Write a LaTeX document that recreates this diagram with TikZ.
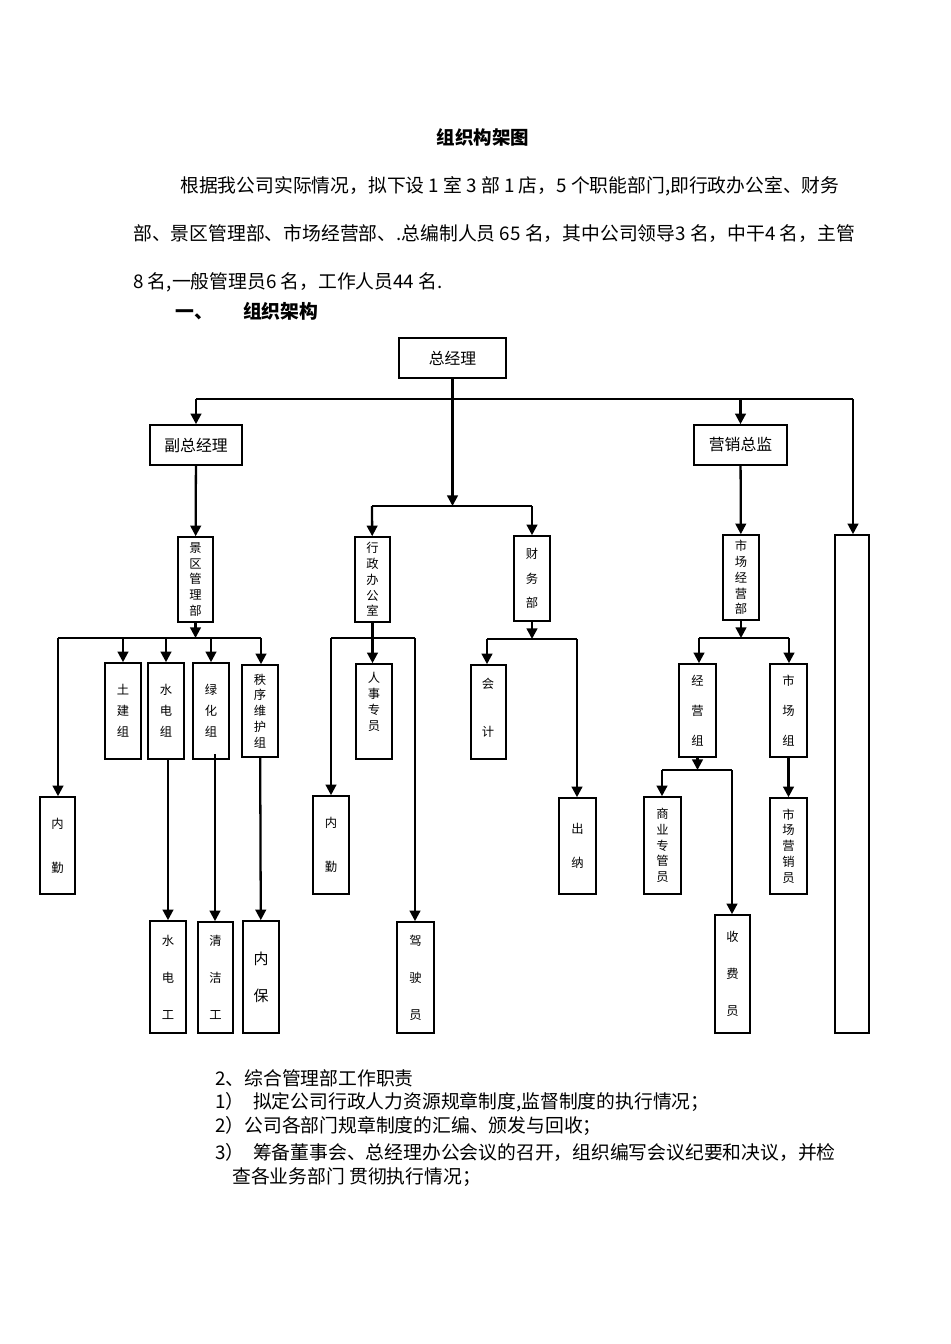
\documentclass[tikz,border=0pt]{standalone}
\usepackage{fontspec}
\setmainfont{Liberation Serif}
\newfontfamily\cjk{Noto Sans CJK SC}
\usetikzlibrary{arrows.meta}
\begin{document}
\begin{tikzpicture}[x=0.02cm,y=-0.02cm,
  box/.style={draw,line width=0.9pt,inner sep=0pt,font=\cjk\fontsize{7}{9}\selectfont,align=center},
  bigbox/.style={box,font=\cjk\fontsize{9}{11}\selectfont},
  ln/.style={line width=1.3pt},
  arr/.style={ln,-{Triangle[width=6pt,length=6pt]}},
  txt/.style={anchor=west,inner sep=0pt,font=\cjk\fontsize{10.7}{12}\selectfont}]
\useasboundingbox (0,0) rectangle (950,1344);
\newcommand\bx[7][box]{\node[#1,minimum width={(#5-#3)*0.02cm},minimum height={(#6-#4)*0.02cm}] (#2) at ({(#3+#5)/2},{(#4+#6)/2}) {#7};}
% texts
\node[font=\cjk\bfseries\fontsize{10.5}{12}\selectfont] (title) at (483,137) {组织构架图};
\node[txt] (p1) at (180,186) {根据我公司实际情况，拟下设 1 室 3 部 1 店，5 个职能部门,即行政办公室、财务};
\node[txt] (p2) at (133,234) {部、景区管理部、市场经营部、.总编制人员 65 名，其中公司领导3 名，中干4 名，主管};
\node[txt] (p3) at (133,282) {8 名,一般管理员6 名，工作人员44 名.};
\node[txt,font=\cjk\bfseries\fontsize{10.7}{12}\selectfont] (h1) at (175,311) {一、\hspace{1.6em}组织架构};
\node[txt] (t1) at (215,1078) {2、综合管理部工作职责};
\node[txt] (t2) at (215,1102) {1）\ \ 拟定公司行政人力资源规章制度,监督制度的执行情况；};
\node[txt] (t3) at (215,1126) {2）公司各部门规章制度的汇编、颁发与回收；};
\node[txt] (t4) at (215,1152) {3）\ \ 筹备董事会、总经理办公会议的召开，组织编写会议纪要和决议，并检};
\node[txt] (t5) at (232,1177) {查各业务部门\ 贯彻执行情况；};
% boxes
\bx[bigbox]{zjl}{399}{338}{506}{378}{总经理}
\bx[bigbox]{fz}{150}{425}{242}{465}{副总经理}
\bx[bigbox]{yx}{694}{425}{787}{465}{营销总监}
\bx{jq}{178}{537}{213}{622}{景\\区\\管\\理\\部}
\bx{xz}{355}{537}{390}{622}{行\\政\\办\\公\\室}
\bx{cw}{514}{536}{550}{621}{财\\[5pt]务\\[5pt]部}
\bx{sc}{723}{535}{759}{620}{市\\场\\经\\营\\部}
\bx{tall}{835}{535}{869}{1033}{}
\bx{tj}{105}{663}{141}{759}{土\\[3pt]建\\[3pt]组}
\bx{sd}{148}{663}{184}{759}{水\\[3pt]电\\[3pt]组}
\bx{lh}{193}{663}{229}{759}{绿\\[3pt]化\\[3pt]组}
\bx{zx}{242}{665}{278}{757}{秩\\序\\维\\护\\组}
\bx{nq1}{40}{797}{75}{894}{内\\[16pt]勤}
\bx{sdg}{150}{921}{186}{1033}{水\\[12pt]电\\[12pt]工}
\bx{qj}{198}{922}{233}{1033}{清\\[12pt]洁\\[12pt]工}
\bx{nb}{243}{921}{279}{1033}{\fontsize{8.5}{10}\selectfont 内\\[12pt]\fontsize{8.5}{10}\selectfont 保}
\bx{rs}{356}{664}{392}{759}{}
\node[font=\cjk\fontsize{7}{9}\selectfont,align=center,anchor=north,inner sep=0pt] (rst) at (374,672) {人\\事\\专\\员};
\bx{nq2}{313}{796}{349}{894}{内\\[16pt]勤}
\bx{jsy}{397}{922}{434}{1033}{驾\\[12pt]驶\\[12pt]员}
\bx{kj}{471}{665}{506}{759}{}
\node[font=\cjk\fontsize{7}{9}\selectfont,align=center,anchor=north,inner sep=0pt] (kjt) at (488,678) {会\\[18pt]计};
\bx{cn}{559}{798}{596}{894}{出\\[10pt]纳}
\bx{jy}{679}{664}{716}{757}{经\\[8pt]营\\[8pt]组}
\bx{scz}{770}{664}{807}{757}{市\\[8pt]场\\[8pt]组}
\bx{sy}{644}{797}{681}{894}{商\\业\\专\\管\\员}
\bx{sf}{715}{915}{750}{1033}{收\\[12pt]费\\[12pt]员}
\bx{yxy}{770}{798}{807}{894}{市\\场\\营\\销\\员}
% junction coordinates
\coordinate (tbL) at (196,399); \coordinate (tbR) at (853,399);
\coordinate (mbL) at (372,506); \coordinate (mbR) at (532,506);
\coordinate (jbL) at (58,638);  \coordinate (jbR) at (261,638);
\coordinate (xbL) at (331,638); \coordinate (xbR) at (415,638);
\coordinate (cbL) at (487,639); \coordinate (cbR) at (577,639);
\coordinate (sbL) at (699,638); \coordinate (sbR) at (789,638);
\coordinate (ybL) at (662,770); \coordinate (ybR) at (732,770);
\coordinate (sdS) at (168,759); \coordinate (lhS) at (215,754);
% top level
\draw[ln] (tbL) -- (tbR);
\draw[arr] (zjl.south) -- (zjl.south |- mbL);
\draw[arr] (tbL) -- (fz);
\draw[arr] (yx.north |- tbL) -- (yx);
\draw[arr] (tbR) -- (tbR |- tall.north);
\draw[arr] (fz) -- (jq);
\draw[arr] (yx) -- (sc);
\draw[ln] (mbL) -- (mbR);
\draw[arr] (mbL) -- (xz);
\draw[arr] (mbR) -- (cw);
% 景区
\draw[arr] (jq.south) -- (jq.south |- jbL);
\draw[ln] (jbL) -- (jbR);
\draw[arr] (jbL) -- (jbL |- nq1.north);
\draw[arr] (tj.north |- jbL) -- (tj);
\draw[arr] (sd.north |- jbL) -- (sd);
\draw[arr] (lh.north |- jbL) -- (lh);
\draw[arr] (jbR) -- (jbR |- zx.north);
\draw[arr] (sdS) -- (sdS |- sdg.north);
\draw[arr] (lhS) -- (lhS |- qj.north);
\draw[arr] (zx) -- (nb);
% 行政
\draw[ln] (xz.south) -- (xz.south |- xbL);
\draw[ln] (xbL) -- (xbR);
\draw[arr] (xz.south |- xbL) -- (xz.south |- rs.north);
\draw[arr] (xbL) -- (xbL |- nq2.north);
\draw[arr] (xbR) -- (xbR |- jsy.north);
% 财务
\draw[arr] (cw.south) -- (cw.south |- cbL);
\draw[ln] (cbL) -- (cbR);
\draw[arr] (cbL) -- (cbL |- kj.north);
\draw[arr] (cbR) -- (cbR |- cn.north);
% 市场
\draw[arr] (sc.south) -- (sc.south |- sbL);
\draw[ln] (sbL) -- (sbR);
\draw[arr] (sbL) -- (sbL |- jy.north);
\draw[arr] (sbR) -- (sbR |- scz.north);
\draw[arr] (jy.south) -- (jy.south |- ybL);
\draw[ln] (ybL) -- (ybR);
\draw[arr] (ybL) -- (ybL |- sy.north);
\draw[arr] (ybR) -- (ybR |- sf.north);
\draw[arr] (scz) -- (yxy);
\end{tikzpicture}
\end{document}
